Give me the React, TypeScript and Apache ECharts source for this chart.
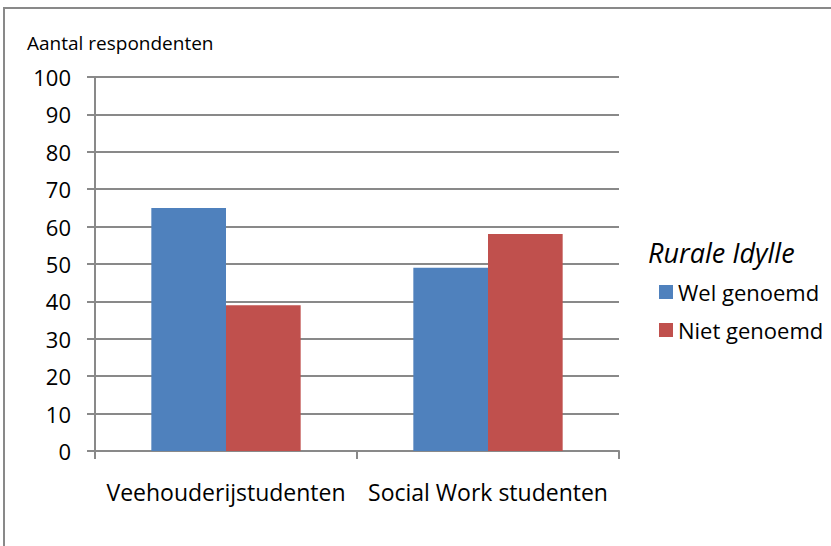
import React, { useEffect, useRef } from "react";
import * as echarts from "echarts";

const categories = ["Veehouderijstudenten", "Social Work studenten"];
const welGenoemd = [65, 49];
const nietGenoemd = [39, 58];
const seriesNames = ["Wel genoemd", "Niet genoemd"];
const yAxisTitle = "Aantal respondenten";
const legendTitle = "Rurale Idylle";

const FONT = "'Open Sans', 'Noto Sans', sans-serif";

export default function App() {
  const ref = useRef<HTMLDivElement>(null);
  useEffect(() => {
    if (!ref.current) return;
    const chart = echarts.init(ref.current, undefined, { renderer: "svg" });
    chart.setOption({
      animation: false,
      backgroundColor: "#ffffff",
      textStyle: { fontFamily: FONT, color: "#000" },
      grid: { left: 95, top: 77, width: 524, height: 374, containLabel: false },
      xAxis: {
        type: "category",
        data: categories,
        axisLine: { show: true, lineStyle: { color: "#898989", width: 2 } },
        axisTick: { show: true, length: 8, lineStyle: { color: "#898989", width: 2 } },
        axisLabel: { color: "#000", fontSize: 23, fontFamily: FONT, margin: 29, interval: 0 },
        splitLine: { show: false },
      },
      yAxis: {
        type: "value",
        min: 0,
        max: 100,
        interval: 10,
        axisLine: { show: true, lineStyle: { color: "#898989", width: 2 } },
        axisTick: { show: true, length: 8, lineStyle: { color: "#898989", width: 2 } },
        axisLabel: { color: "#000", fontSize: 22, fontFamily: FONT, margin: 24 },
        splitLine: { show: true, lineStyle: { color: "#898989", width: 2 } },
      },
      legend: {
        orient: "vertical",
        left: 654,
        top: 276,
        itemWidth: 14,
        itemHeight: 14,
        itemGap: 16,
        icon: "rect",
        textStyle: { fontSize: 22, fontFamily: FONT, color: "#000" },
        data: seriesNames,
      },
      series: [
        {
          name: seriesNames[0],
          type: "bar",
          data: welGenoemd,
          barGap: "0%",
          barCategoryGap: "43%",
          itemStyle: { color: "#4F81BD" },
        },
        {
          name: seriesNames[1],
          type: "bar",
          data: nietGenoemd,
          barGap: "0%",
          barCategoryGap: "43%",
          itemStyle: { color: "#C0504D" },
        },
      ],
      graphic: [
        {
          type: "rect",
          silent: true,
          shape: { x: 4, y: 8, width: 1000, height: 1000 },
          style: { fill: "none", stroke: "#898989", lineWidth: 2 },
        },
        {
          type: "text",
          left: 27,
          top: 33,
          style: { text: yAxisTitle, fontSize: 19, fontFamily: FONT, fill: "#000" },
        },
        {
          type: "text",
          left: 648,
          top: 239,
          style: { text: legendTitle, fontSize: 27, fontStyle: "italic", fontFamily: FONT, fill: "#000" },
        },
      ],
    });
    return () => chart.dispose();
  }, []);
  return (
    <div
      ref={ref}
      style={{ position: "absolute", left: 0, top: 0, width: 831, height: 546, background: "#fff" }}
    />
  );
}
